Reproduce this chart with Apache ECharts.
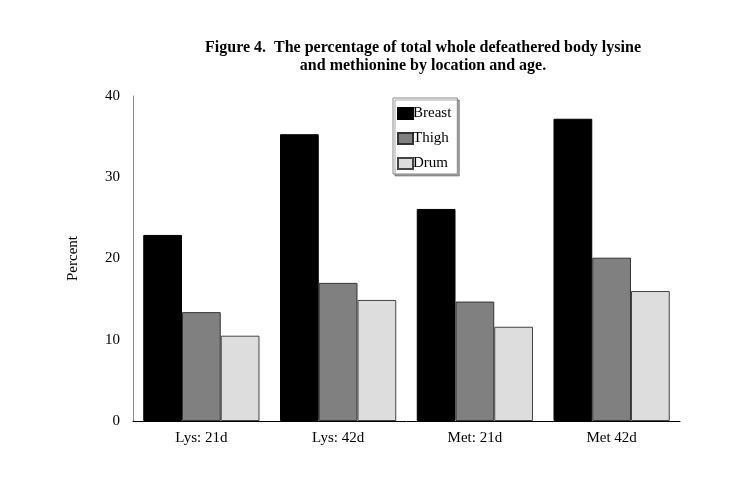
<!DOCTYPE html>
<html><head><meta charset="utf-8">
<script src="https://cdn.jsdelivr.net/npm/echarts@6/dist/echarts.min.js"></script>
<style>html,body{margin:0;padding:0;background:#fff}#c{width:740px;height:480px}</style>
</head><body><div id="c"></div>
<script>
var categories = ['Lys: 21d', 'Lys: 42d', 'Met: 21d', 'Met 42d'];
var breast = [22.9, 35.3, 26.1, 37.2];
var thigh = [13.4, 17.0, 14.7, 20.1];
var drum = [10.5, 14.9, 11.6, 16.0];
var yTicks = [0, 10, 20, 30, 40];

var serif = '"Liberation Serif","Times New Roman",serif';
var chart = echarts.init(document.getElementById('c'), null, {renderer: 'canvas'});
function bar(name, data, color, border) {
  return {
    name: name, type: 'bar', data: data, barGap: '0%', barCategoryGap: '15%',
    itemStyle: {color: color, borderColor: border, borderWidth: 1}
  };
}
chart.setOption({
  animation: false,
  title: {
    text: 'Figure 4.  The percentage of total whole defeathered body lysine\nand methionine by location and age.',
    left: 418, top: 34, textAlign: 'center',
    textStyle: {fontFamily: serif, fontWeight: 'bold', fontSize: 16, color: '#000', lineHeight: 18}
  },
  legend: {
    orient: 'vertical', left: 393, top: 98, icon: 'rect', itemWidth: 15, itemHeight: 11, itemGap: 10,
    padding: [8, 6, 3, 4], borderColor: '#888', borderWidth: 1,
    backgroundColor: '#fff', shadowColor: 'rgba(0,0,0,0.35)', shadowOffsetX: 2, shadowOffsetY: 2, shadowBlur: 0,
    textStyle: {fontFamily: serif, fontSize: 15, color: '#000', padding: [0, 0, 0, -5]},
    data: ['Breast', 'Thigh', 'Drum']
  },
  grid: {left: 133, right: 60, top: 96, bottom: 59, containLabel: false},
  xAxis: {
    type: 'category', data: categories,
    axisLine: {lineStyle: {color: '#000', width: 1}},
    axisTick: {show: false},
    axisLabel: {fontFamily: serif, fontSize: 15, color: '#000', margin: 10}
  },
  yAxis: {
    type: 'value', min: yTicks[0], max: yTicks[yTicks.length - 1], interval: 10,
    name: 'Percent', nameLocation: 'middle', nameGap: 52, nameRotate: 90,
    nameTextStyle: {fontFamily: serif, fontSize: 15, color: '#000'},
    axisLine: {show: true, lineStyle: {color: '#888', width: 1}},
    axisTick: {show: false},
    splitLine: {show: false},
    axisLabel: {fontFamily: serif, fontSize: 15, color: '#000', margin: 13}
  },
  series: [
    bar('Breast', breast, '#000000', '#000000'),
    bar('Thigh', thigh, '#808080', '#333333'),
    bar('Drum', drum, '#dddddd', '#444444')
  ]
});
</script></body></html>
